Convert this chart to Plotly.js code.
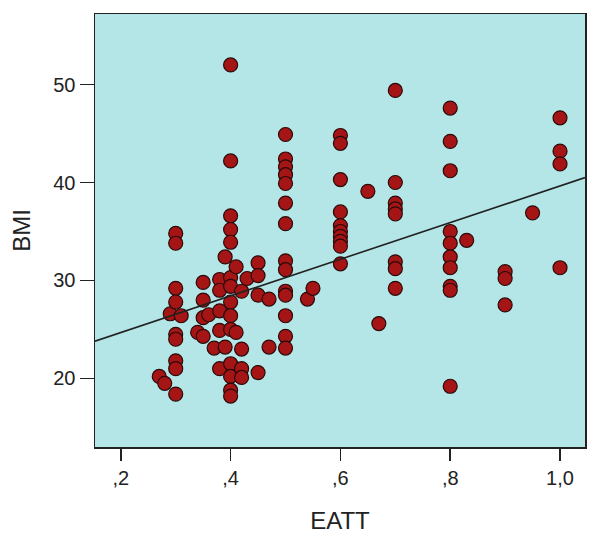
<!DOCTYPE html>
<html>
<head>
<meta charset="utf-8">
<script src="https://cdn.plot.ly/plotly-3.0.1.min.js"></script>
<style>html,body{margin:0;padding:0;background:#fff;}#chart{width:600px;height:544px;}</style>
</head>
<body>
<div id="chart"></div>
<script>
// EATT values (x) and matching BMI values (y)
const eatt = [
  0.27, 0.28, 0.29,
  0.30, 0.30, 0.30, 0.30, 0.30, 0.30, 0.30, 0.30, 0.30,
  0.31, 0.34,
  0.35, 0.35, 0.35, 0.35,
  0.36, 0.37,
  0.38, 0.38, 0.38, 0.38, 0.38,
  0.39, 0.39,
  0.40, 0.40, 0.40, 0.40, 0.40, 0.40, 0.40, 0.40, 0.40, 0.40, 0.40, 0.40, 0.40, 0.40,
  0.41, 0.41,
  0.42, 0.42, 0.42, 0.42,
  0.43,
  0.45, 0.45, 0.45, 0.45,
  0.47, 0.47,
  0.50, 0.50, 0.50, 0.50, 0.50, 0.50, 0.50, 0.50, 0.50, 0.50, 0.50, 0.50, 0.50, 0.50,
  0.54, 0.55,
  0.60, 0.60, 0.60, 0.60, 0.60, 0.60, 0.60, 0.60, 0.60, 0.60,
  0.65, 0.67,
  0.70, 0.70, 0.70, 0.70, 0.70, 0.70, 0.70, 0.70,
  0.80, 0.80, 0.80, 0.80, 0.80, 0.80, 0.80, 0.80, 0.80, 0.80,
  0.83,
  0.90, 0.90, 0.90,
  0.95,
  1.00, 1.00, 1.00, 1.00
];
const bmi = [
  20.2, 19.5, 26.6,
  34.8, 33.8, 29.2, 27.8, 24.5, 24.0, 21.8, 21.0, 18.4,
  26.4, 24.7,
  29.8, 28.0, 26.2, 24.3,
  26.5, 23.1,
  30.1, 29.0, 26.9, 24.9, 21.0,
  32.4, 23.2,
  52.0, 42.2, 36.6, 35.2, 33.9, 30.3, 29.4, 27.8, 26.4, 25.0, 21.5, 20.2, 18.8, 18.2,
  31.4, 24.7,
  28.9, 23.0, 21.0, 20.1,
  30.2,
  31.8, 30.5, 28.5, 20.6,
  28.1, 23.2,
  44.9, 42.4, 41.6, 40.8, 39.9, 37.9, 35.8, 32.0, 31.1, 28.9, 28.5, 26.4, 24.3, 23.1,
  28.1, 29.2,
  44.8, 44.0, 40.3, 37.0, 35.6, 35.0, 34.5, 34.0, 33.5, 31.7,
  39.1, 25.6,
  49.4, 40.0, 37.9, 37.3, 36.8, 31.9, 31.2, 29.2,
  47.6, 44.2, 41.2, 35.0, 33.8, 32.4, 31.3, 29.4, 29.0, 19.2,
  34.1,
  30.9, 30.2, 27.5,
  36.9,
  46.6, 43.2, 41.9, 31.3
];

// Fit line coefficients (BMI = intercept + slope * EATT)
const fitIntercept = 20.94;
const fitSlope = 18.71;

// Axis ticks
const xTickVals = [0.2, 0.4, 0.6, 0.8, 1.0];
const xTickText = [",2", ",4", ",6", ",8", "1,0"];
const yTickVals = [20, 30, 40, 50];
const yTickText = ["20", "30", "40", "50"];

const xRange = [0.153, 1.0455];
const yRange = [13.0, 57.2];

const fitX = xRange.slice();
const fitY = fitX.map(v => fitIntercept + fitSlope * v);

const traces = [
  {
    x: eatt, y: bmi, type: 'scatter', mode: 'markers',
    marker: {size: 14, color: '#a51515', line: {color: '#2b0a0a', width: 1.2}},
    hoverinfo: 'x+y', showlegend: false
  },
  {
    x: fitX, y: fitY, type: 'scatter', mode: 'lines',
    line: {color: '#222222', width: 1.6},
    hoverinfo: 'skip', showlegend: false
  }
];

const layout = {
  width: 600, height: 544,
  margin: {l: 95, r: 15, t: 14, b: 97},
  paper_bgcolor: '#ffffff',
  plot_bgcolor: '#b4e6e8',
  font: {family: 'Liberation Sans, Arial, sans-serif', color: '#222222'},
  xaxis: {
    range: xRange, tickvals: xTickVals, ticktext: xTickText,
    showgrid: false, zeroline: false,
    showline: true, mirror: true, linecolor: '#222222', linewidth: 1.5,
    ticks: 'outside', ticklen: 12, tickwidth: 1.5, tickcolor: '#222222',
    tickfont: {size: 20, color: '#222222'},
    title: {text: 'EATT', font: {size: 24, color: '#222222'}, standoff: 24},
    automargin: false
  },
  yaxis: {
    range: yRange, tickvals: yTickVals, ticktext: yTickText,
    showgrid: false, zeroline: false,
    showline: true, mirror: true, linecolor: '#222222', linewidth: 1.5,
    ticks: 'outside', ticklen: 14, tickwidth: 1.5, tickcolor: '#222222',
    tickfont: {size: 20, color: '#222222'},
    title: {text: 'BMI', font: {size: 24, color: '#222222'}, standoff: 16},
    automargin: false
  },
  showlegend: false
};

Plotly.newPlot('chart', traces, layout, {staticPlot: true, displayModeBar: false});
</script>
</body>
</html>
